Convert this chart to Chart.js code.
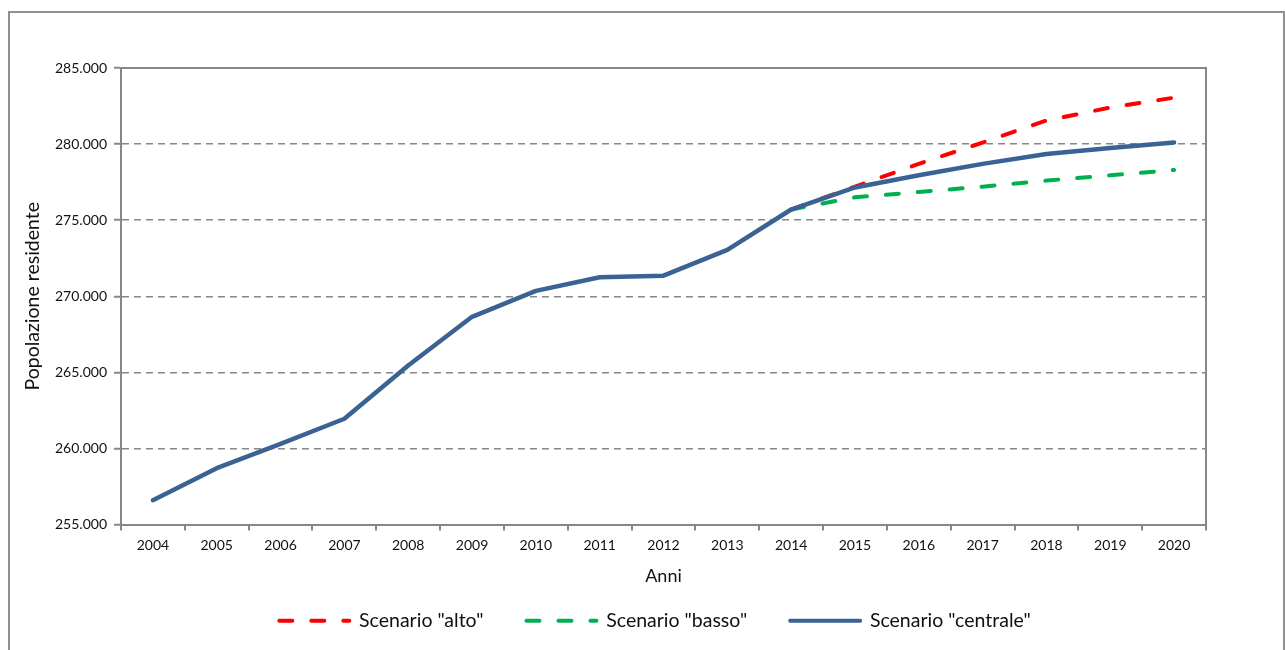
<!DOCTYPE html>
<html>
<head>
<meta charset="utf-8">
<script src="https://cdn.jsdelivr.net/npm/chart.js@4/dist/chart.umd.min.js"></script>
<style>
    html, body { margin: 0; padding: 0; background: #fff; overflow: hidden; }
    #wrap { position: relative; width: 1285px; height: 650px; }
    #frame {
        position: absolute; left: 8px; top: 11px; width: 1273px; height: 700px;
        border: 2px solid #8f8f8f; pointer-events: none;
    }
</style>
</head>
<body>
<div id="wrap">
    <canvas id="pop-chart" width="1285" height="650"></canvas>
    <div id="frame"></div>
</div>
<script>
var years = ['2004', '2005', '2006', '2007', '2008', '2009', '2010', '2011', '2012',
             '2013', '2014', '2015', '2016', '2017', '2018', '2019', '2020'];

var scenarioAlto = [null, null, null, null, null, null, null, null, null, null,
                    275700, 277200, 278700, 280100, 281550, 282400, 283050];

var scenarioBasso = [null, null, null, null, null, null, null, null, null, null,
                     275700, 276500, 276850, 277200, 277600, 277950, 278300];

var scenarioCentrale = [256600, 258700, 260300, 261950, 265450, 268650, 270350, 271250, 271350,
                        273050, 275700, 277150, 277950, 278700, 279350, 279750, 280100];

var yMin = 255000;
var yMax = 285000;
var yStep = 5000;

var gridGray = '#878787';

function formatThousands(n) {
    return String(n).replace(/\B(?=(\d{3})+(?!\d))/g, '.');
}

// solid top and right edges of the plot area
var plotFrame = {
    id: 'plotFrame',
    beforeDatasetsDraw: function (chart) {
        var a = chart.chartArea;
        var ctx = chart.ctx;
        ctx.save();
        ctx.strokeStyle = gridGray;
        ctx.lineWidth = 2;
        ctx.beginPath();
        ctx.moveTo(a.left, a.top);
        ctx.lineTo(a.right, a.top);
        ctx.lineTo(a.right, a.bottom);
        ctx.stroke();
        ctx.restore();
    }
};

// move the legend so it sits where the original one is
var legendShift = {
    id: 'legendShift',
    afterLayout: function (chart) {
        var lg = chart.legend;
        if (!lg) {
            return;
        }
        lg.left += 42;
        lg.right += 42;
        lg.top -= 9.5;
        lg.bottom -= 9.5;
    }
};

var dashed = [13, 19];

new Chart(document.getElementById('pop-chart'), {
    type: 'line',
    data: {
        labels: years,
        datasets: [{
            label: 'Scenario "alto"',
            data: scenarioAlto,
            borderColor: '#ff0000',
            backgroundColor: '#ff0000',
            borderWidth: 4,
            borderDash: dashed,
            borderCapStyle: 'round',
            pointRadius: 0,
            tension: 0,
            order: 2
        }, {
            label: 'Scenario "basso"',
            data: scenarioBasso,
            borderColor: '#00b050',
            backgroundColor: '#00b050',
            borderWidth: 4,
            borderDash: dashed,
            borderCapStyle: 'round',
            pointRadius: 0,
            tension: 0,
            order: 1
        }, {
            label: 'Scenario "centrale"',
            data: scenarioCentrale,
            borderColor: '#3a6394',
            backgroundColor: '#3a6394',
            borderWidth: 4.5,
            borderCapStyle: 'round',
            borderJoinStyle: 'round',
            pointRadius: 0,
            tension: 0,
            order: 0
        }]
    },
    options: {
        responsive: false,
        animation: false,
        devicePixelRatio: 1,
        layout: {
            padding: { left: 20, top: 68, right: 79, bottom: 0 }
        },
        scales: {
            x: {
                type: 'category',
                offset: true,
                afterFit: function (scale) {
                    scale.height = 53;
                },
                grid: {
                    offset: true,
                    drawOnChartArea: false,
                    drawTicks: true,
                    tickLength: 6,
                    color: gridGray,
                    lineWidth: 2
                },
                border: { display: true, color: gridGray, width: 2 },
                ticks: {
                    color: '#111',
                    padding: 7,
                    maxRotation: 0,
                    autoSkip: false,
                    font: { family: 'Lato', size: 14 }
                },
                title: {
                    display: true,
                    text: 'Anni',
                    color: '#111',
                    padding: { top: 0, bottom: -9.5 },
                    font: { family: 'Lato', size: 18 }
                }
            },
            y: {
                min: yMin,
                max: yMax,
                afterFit: function (scale) {
                    scale.width = 101;
                },
                grid: {
                    color: gridGray,
                    lineWidth: 1.5,
                    tickLength: 7,
                    tickWidth: 2
                },
                border: { display: true, color: gridGray, width: 2, dash: [7, 5] },
                ticks: {
                    stepSize: yStep,
                    color: '#111',
                    padding: 7,
                    font: { family: 'Lato', size: 14 },
                    callback: function (value) {
                        return formatThousands(value);
                    }
                },
                title: {
                    display: true,
                    text: 'Popolazione residente',
                    color: '#111',
                    padding: { top: 1, bottom: 4 },
                    font: { family: 'Lato', size: 19.5 }
                }
            }
        },
        plugins: {
            legend: {
                position: 'bottom',
                labels: {
                    usePointStyle: true,
                    pointStyle: 'line',
                    pointStyleWidth: 70,
                    padding: 43,
                    color: '#111',
                    font: { family: 'Lato', size: 19.5 },
                    sort: function (a, b) {
                        return a.datasetIndex - b.datasetIndex;
                    },
                    generateLabels: function (chart) {
                        var items = Chart.defaults.plugins.legend.labels.generateLabels(chart);
                        items.forEach(function (item) {
                            var ds = chart.data.datasets[item.datasetIndex];
                            item.lineDash = ds.borderDash || [];
                            item.lineCap = 'round';
                            item.lineWidth = 4;
                            item.strokeStyle = ds.borderColor;
                        });
                        return items;
                    }
                }
            },
            tooltip: { enabled: false }
        }
    },
    plugins: [plotFrame, legendShift]
});
</script>
</body>
</html>
